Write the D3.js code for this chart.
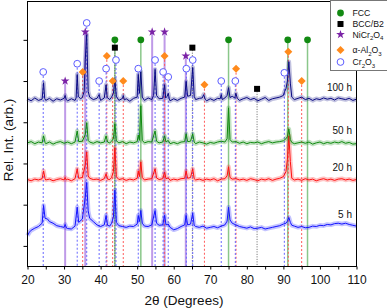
<!DOCTYPE html>
<html lang="en">
<head>
  <meta charset="UTF-8">
  <title>XRD patterns</title>
  <script src="https://d3js.org/d3.v7.min.js"></script>
  <style>
    body { margin: 0; background: #fff; }
    svg { font-family: "Liberation Sans", Arial, sans-serif; }
  </style>
</head>
<body>
  <svg id="chart" width="387" height="308"></svg>

  <script>
    // scans: [2theta, intensity above the scan's own baseline]
    const scan5h = [[20,-20],[20.5,-12],[21,-7],[22,-2],[23,2],[24,10],[24.4,53],[24.8,22],[25.5,20],[26,14],[27,10],[28,4],[29,2],[30,0],[30.3,7],[30.7,-2],[31,-3],[32,-4],[33,3],[33.6,49],[34,12],[35,20],[35.8,73],[36.2,109],[36.6,40],[37,22],[38,14],[39,6],[40,2],[41,6],[41.5,29],[41.9,5],[42.5,3],[43,10],[43.5,25],[43.9,90],[44.3,12],[45,4],[46,2],[47,0],[48,3],[49,2],[50,8],[50.3,29],[50.6,14],[51,41],[51.4,10],[52,3],[53,2],[54,6],[54.9,41],[55.3,10],[56,5],[57,6],[57.5,29],[57.9,6],[58.5,8],[59,0],[60,-6],[61,-3],[62,2],[63,6],[63.4,29],[63.8,6],[64.6,8],[65.2,34],[65.6,5],[66,2],[67,0],[68,3],[69,-2],[70,0],[71,2],[72,-1],[73,3],[74,6],[74.6,15],[75,49],[75.4,18],[76,10],[77,6],[78,2],[79,0],[80,-2],[81,1],[82,-3],[83,-2],[84,0],[85,-4],[86,-2],[87,0],[88,2],[89,4],[90,8],[90.7,10],[91.1,15],[91.5,24],[91.9,12],[92.3,5],[93,3],[94,0],[95,2],[96,-1],[97,0],[98,3],[99,2],[100,5],[101,4],[102,7],[103,6],[104,9],[105,10],[106,8],[107,10],[108,7],[109,5],[110,3]];

    const scan20h = [[20,1],[21,-2],[22,2],[23,0],[24,3],[24.4,22],[24.8,3],[25,0],[26,2],[27,-2],[28,1],[29,3],[30,0],[30.3,6],[30.6,0],[31,2],[32,-2],[33,3],[33.6,27],[34,4],[35,6],[35.8,36],[36.2,68],[36.6,10],[37,4],[38,1],[39,2],[40,-1],[41,3],[41.5,15],[41.9,2],[42.5,1],[43,6],[43.5,20],[43.9,78],[44.3,8],[45,1],[46,3],[47,-1],[48,2],[49,0],[50,4],[50.3,22],[50.6,8],[51,44],[51.4,6],[52,0],[53,2],[54,3],[54.9,27],[55.3,5],[56,1],[57,3],[57.5,19],[57.9,3],[58.5,5],[59,-1],[60,2],[61,0],[62,3],[63,4],[63.4,22],[63.8,4],[64.6,6],[65.2,27],[65.6,3],[66,0],[67,2],[68,-1],[69,2],[70,0],[71,3],[72,-2],[73,2],[74,3],[74.6,10],[75,32],[75.4,6],[76,2],[77,3],[78,0],[79,2],[80,-1],[81,3],[82,1],[83,-2],[84,2],[85,0],[86,3],[87,-1],[88,2],[89,4],[90,8],[90.7,20],[91.1,50],[91.5,107],[91.9,45],[92.3,4],[93,0],[94,2],[95,-1],[96,3],[97,0],[98,2],[99,-2],[100,1],[101,3],[102,0],[103,2],[104,-1],[105,2],[106,3],[107,0],[108,2],[109,-1],[110,1]];

    const scan50h = [[20,0],[21,3],[22,-2],[23,2],[24,0],[24.4,17],[24.8,1],[25,-2],[26,2],[27,-3],[28,1],[29,3],[30,-1],[31,2],[32,-2],[33,2],[33.6,29],[34,3],[35,4],[35.8,20],[36.2,49],[36.6,6],[37,2],[38,-1],[39,3],[40,0],[41,2],[41.5,17],[41.9,2],[42.5,0],[43,4],[43.5,10],[43.9,46],[44.3,5],[45,0],[46,3],[47,-2],[48,2],[49,0],[50,3],[50.3,19],[50.6,6],[51,90],[51.4,6],[52,0],[53,3],[54,2],[54.9,29],[55.3,4],[56,0],[57,2],[57.5,17],[57.9,2],[58.5,6],[59,-2],[60,1],[61,-2],[62,2],[63,3],[63.4,22],[63.8,3],[64.6,4],[65.2,22],[65.6,2],[66,-2],[67,2],[68,0],[69,-3],[70,1],[71,-1],[72,2],[73,4],[74,2],[74.6,10],[75,85],[75.4,8],[76,2],[77,3],[78,-1],[79,2],[80,-2],[81,1],[82,0],[83,2],[84,-2],[85,1],[86,3],[87,0],[88,2],[89,3],[90,5],[90.7,10],[91.1,15],[91.5,34],[91.9,8],[92.3,1],[93,-2],[94,0],[95,2],[96,-1],[97,2],[98,-3],[99,0],[100,2],[101,-2],[102,1],[103,-1],[104,2],[105,0],[106,3],[107,-1],[108,1],[109,-3],[110,-2]];

    const scan100h = [[20,2],[21,-3],[22,4],[23,-2],[24,1],[24.4,41],[24.7,3],[25,-2],[26,3],[27,-4],[28,2],[29,-1],[30,3],[30.3,10],[30.6,0],[31,-3],[32,2],[33,-2],[33.3,4],[33.6,61],[33.9,8],[34.5,2],[35,5],[35.5,20],[35.8,97],[36.2,158],[36.6,20],[37,6],[38,0],[39,3],[39.6,12],[40,-2],[41,4],[41.5,36],[41.8,5],[42.5,0],[43,6],[43.5,15],[43.9,49],[44.3,8],[45,-2],[46,3],[46.2,10],[46.5,-1],[47,2],[48,-4],[49,3],[50,6],[50.3,61],[50.6,15],[51,68],[51.4,6],[52,-2],[53,4],[54,0],[54.5,10],[54.9,73],[55.3,10],[56,2],[57,3],[57.5,36],[57.8,4],[58.2,8],[58.5,15],[58.8,2],[59,-3],[60,2],[61,-2],[62,3],[63,6],[63.4,44],[63.8,8],[64.6,10],[65.2,78],[65.6,8],[66,0],[67,3],[67.8,4],[68.2,12],[68.6,1],[69,-3],[70,2],[71,-2],[72,3],[72.7,2],[73,12],[73.3,0],[74,4],[74.6,10],[75,29],[75.4,5],[76,8],[76.7,4],[77,15],[77.4,3],[78,-2],[79,2],[80,5],[81,0],[82,3],[83,-3],[84,1],[85,5],[86,-2],[87,2],[88,4],[89,6],[90,10],[90.3,19],[90.7,26],[91.1,45],[91.5,92],[91.9,40],[92.3,6],[93,0],[94,3],[95,6],[96,0],[97,3],[98,-2],[99,2],[100,0],[101,4],[102,1],[103,3],[104,-1],[105,4],[106,2],[107,0],[108,3],[109,-2],[110,1]];

    const scans = [scan5h, scan20h, scan50h, scan100h];
    const scanNames = ["5 h", "20 h", "50 h", "100 h"];
    const scanOffsets = [45, 160, 250, 355];
    const scanColors = ["#1414ff", "#ff1010", "#108a10", "#0a0a82"];

    // reference peak positions (2theta) and marker heights
    const fccPos = [43.9, 51.0, 75.0, 91.2, 96.6];
    const fccMark = [500, 500, 500, 500, 500];
    const bccPos = [43.9, 65.1, 82.8];
    const bccMark = [481, 481, 381];
    const spinelPos = [30.3, 35.8, 54.1, 57.5, 63.3];
    const spinelMark = [400, 519, 519, 519, 461];
    const aluminaPos = [35.1, 41.7, 43.3, 46.2, 57.5, 68.4, 77.05, 91.35, 95.0];
    const aluminaMark = [422, 461, 400, 400, 461, 391, 430, 471, 400];
    const chromiaPos = [24.3, 33.6, 36.2, 39.6, 41.5, 44.2, 50.3, 54.9, 57.1, 58.5, 63.45, 65.2, 73.0, 76.85, 90.26];
    const chromiaMark = [422, 442, 541, 400, 430, 451, 430, 451, 422, 410, 430, 451, 400, 400, 420];

    const xTicks = [20, 25, 30, 35, 40, 45, 50, 55, 60, 65, 70, 75, 80, 85, 90, 95, 100, 105, 110];
    const yTicks = [0, 100, 200, 300, 400, 500];

    const svg = d3.select("#chart");
    const x = d3.scaleLinear().domain([20, 110]).range([27.5, 356.5]);
    const y = d3.scaleLinear().domain([-50, 593]).range([266.5, 1.5]);

    const phases = [
      { label: "FCC", pos: fccPos, mark: fccMark, line: "#8ac78a", lw: 1.5, dash: null,
        sym: d3.symbolCircle, size: 36, rot: 0, fill: "#128a12", stroke: "none" },
      { label: "BCC/B2", pos: bccPos, mark: bccMark, line: "#666", lw: 1, dash: "1,1.5",
        sym: d3.symbolSquare, size: 36, rot: 0, fill: "#000", stroke: "none" },
      { label: "NiCr_2O_4", pos: spinelPos, mark: spinelMark, line: "#bf9ae8", lw: 2, dash: null,
        sym: d3.symbolStar, size: 24, rot: 0, fill: "#7a22a6", stroke: "none" },
      { label: "\u03b1-Al_2O_3", pos: aluminaPos, mark: aluminaMark, line: "#ff5a5a", lw: 1, dash: "2,2",
        sym: d3.symbolSquare, size: 32, rot: 45, fill: "#ff8a1c", stroke: "none" },
      { label: "Cr_2O_3", pos: chromiaPos, mark: chromiaMark, line: "#6666ff", lw: 1, dash: "2,2",
        sym: d3.symbolCircle, size: 36, rot: 0, fill: "#fff", stroke: "#5c5cff" }
    ];

    // reference lines down to the axis
    phases.forEach(p => {
      svg.append("g").selectAll("line")
        .data(p.pos.map((t, i) => ({ t: t, m: p.mark[i] })))
        .join("line")
        .attr("x1", d => x(d.t)).attr("x2", d => x(d.t))
        .attr("y1", d => y(d.m)).attr("y2", y.range()[0])
        .attr("stroke", p.line)
        .attr("stroke-width", p.lw)
        .attr("stroke-dasharray", p.dash);
    });

    // scans
    const line = d3.line().x(d => x(d[0]));
    scans.forEach((s, i) => {
      line.y(d => y(d[1] + scanOffsets[i]));
      svg.append("path").attr("d", line(s)).attr("fill", "none")
        .attr("stroke", scanColors[i]).attr("stroke-width", 4.5).attr("stroke-opacity", 0.25)
        .attr("stroke-linejoin", "round");
      svg.append("path").attr("d", line(s)).attr("fill", "none")
        .attr("stroke", scanColors[i]).attr("stroke-width", 1)
        .attr("stroke-linejoin", "round");
      svg.append("text")
        .attr("x", 352).attr("y", y(scanOffsets[i]) - 9)
        .attr("text-anchor", "end").attr("font-size", 10).attr("fill", "#111")
        .text(scanNames[i]);
    });

    // markers
    phases.forEach(p => {
      svg.append("g").selectAll("path")
        .data(p.pos.map((t, i) => ({ t: t, m: p.mark[i] })))
        .join("path")
        .attr("d", d3.symbol(p.sym, p.size))
        .attr("transform", d => `translate(${x(d.t)},${y(d.m)}) rotate(${p.rot})`)
        .attr("fill", p.fill)
        .attr("stroke", p.stroke)
        .attr("stroke-width", 1);
    });

    // frame and axes
    svg.append("rect")
      .attr("x", x.range()[0]).attr("y", y.range()[1])
      .attr("width", x.range()[1] - x.range()[0])
      .attr("height", y.range()[0] - y.range()[1])
      .attr("fill", "none").attr("stroke", "#000").attr("stroke-width", 1);

    const xAxis = svg.append("g")
      .attr("transform", `translate(0,${y.range()[0]})`)
      .call(d3.axisBottom(x).tickValues(xTicks)
        .tickFormat(d => d % 10 === 0 ? d : "")
        .tickSize(3).tickPadding(6));
    xAxis.select(".domain").remove();
    xAxis.selectAll("text").attr("font-size", 12).attr("font-family", null).attr("fill", "#111");

    const yAxis = svg.append("g")
      .attr("transform", `translate(${x.range()[0]},0)`)
      .call(d3.axisLeft(y).tickValues(yTicks).tickFormat("").tickSize(4));
    yAxis.select(".domain").remove();

    svg.append("text")
      .attr("x", 184).attr("y", 304.5)
      .attr("text-anchor", "middle").attr("font-size", 13.5).attr("fill", "#111")
      .text("2\u03b8 (Degrees)");

    svg.append("text")
      .attr("transform", "translate(13,140) rotate(-90)")
      .attr("text-anchor", "middle").attr("font-size", 13.5).attr("fill", "#111")
      .text("Rel. Int. (arb.)");

    // legend
    const legend = svg.append("g");
    legend.append("rect")
      .attr("x", 330.5).attr("y", 0.5).attr("width", 70).attr("height", 70)
      .attr("fill", "#fff").attr("stroke", "#777");

    const rowY = [13, 24, 34.5, 50, 62];
    function richText(t, label, size) {
      let shifted = false;
      label.split(/_(\d)/).forEach((part, i) => {
        if (!part) return;
        const sub = i % 2 === 1;
        const ts = t.append("tspan").text(part);
        if (sub && !shifted) { ts.attr("dy", size * 0.3); shifted = true; }
        if (!sub && shifted) { ts.attr("dy", -size * 0.3); shifted = false; }
        if (sub) ts.attr("font-size", size * 0.7);
      });
    }
    phases.forEach((p, i) => {
      legend.append("path")
        .attr("d", d3.symbol(p.sym, p.size))
        .attr("transform", `translate(340.5,${rowY[i]}) rotate(${p.rot})`)
        .attr("fill", p.fill).attr("stroke", p.stroke);
      const t = legend.append("text")
        .attr("x", 352.5).attr("y", rowY[i] + 3)
        .attr("font-size", 8.7).attr("fill", "#111");
      richText(t, p.label, 8.7);
    });
  </script>
</body>
</html>
